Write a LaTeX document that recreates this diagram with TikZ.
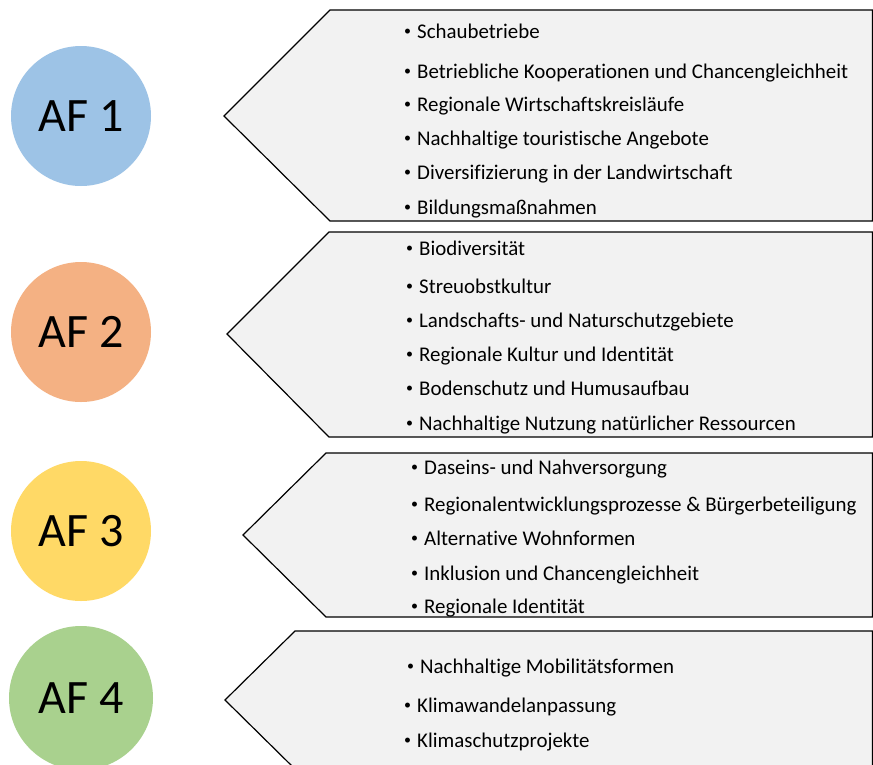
\documentclass[tikz,border=0pt]{standalone}
\usepackage{fontspec}
\setmainfont{Carlito}[Ligatures=NoCommon]
\definecolor{afblue}{HTML}{9DC3E6}
\definecolor{aforange}{HTML}{F4B183}
\definecolor{afyellow}{HTML}{FFD966}
\definecolor{afgreen}{HTML}{A9D18E}
\definecolor{boxgray}{HTML}{F2F2F2}
\tikzset{
  afcircle/.style={circle, inner sep=0pt, minimum size=140pt, font=\fontsize{48}{56}\selectfont},
  arrowbox/.style={draw=black, fill=boxgray, line width=1.2pt, line join=miter},
  item/.style={anchor=base west, inner sep=0pt, font=\fontsize{20.9}{25}\selectfont},
}
\newcommand{\bul}{\makebox[13pt][l]{\raisebox{2.6pt}{\fontsize{14}{14}\selectfont\textbullet}}}
\begin{document}
\begin{tikzpicture}[x=1pt,y=-1pt]
                \clip (0,0) rectangle (873,764);
                \fill[white] (0,0) rectangle (873,764);

                % Aktionsfelder
                \node[afcircle, fill=afblue] (af1) at (81,116) {AF 1};
                \node[afcircle, fill=aforange] (af2) at (81,332) {AF 2};
                \node[afcircle, fill=afyellow] (af3) at (81,531) {AF 3};
                \node[afcircle, fill=afgreen, minimum size=144pt] (af4) at (81,698) {AF 4};

                % Pfeilkästen
                \draw[arrowbox] (330,10) -- (872.5,10) -- (872.5,221) -- (330,221) -- (224,116) -- cycle;
                \draw[arrowbox] (329,232) -- (872.5,232) -- (872.5,437) -- (329,437) -- (227,334) -- cycle;
                \draw[arrowbox] (326,453) -- (872.5,453) -- (872.5,617) -- (326,617) -- (243,535) -- cycle;
                \draw[arrowbox] (295,631) -- (872.5,631) -- (872.5,769) -- (295,769) -- (225,700) -- cycle;

                % AF 1
                \node[item] (s1a) at (404,38) {\bul Schaubetriebe};
                \node[item] (s1b) at (404,78) {\bul Betriebliche Kooperationen und Chancengleichheit};
                \node[item] (s1c) at (404,111) {\bul Regionale Wirtschaftskreisläufe};
                \node[item] (s1d) at (404,145) {\bul Nachhaltige touristische Angebote};
                \node[item] (s1e) at (404,179) {\bul Diversifizierung in der Landwirtschaft};
                \node[item] (s1f) at (404,214) {\bul Bildungsmaßnahmen};

                % AF 2
                \node[item] (s2a) at (406,255) {\bul Biodiversität};
                \node[item] (s2b) at (406,293) {\bul Streuobstkultur};
                \node[item] (s2c) at (406,327) {\bul Landschafts- und Naturschutzgebiete};
                \node[item] (s2d) at (406,361) {\bul Regionale Kultur und Identität};
                \node[item] (s2e) at (406,395) {\bul Bodenschutz und Humusaufbau};
                \node[item] (s2f) at (406,430) {\bul Nachhaltige Nutzung natürlicher Ressourcen};

                % AF 3
                \node[item] (s3a) at (411,474) {\bul Daseins- und Nahversorgung};
                \node[item] (s3b) at (411,511) {\bul Regionalentwicklungsprozesse \& Bürgerbeteiligung};
                \node[item] (s3c) at (411,545) {\bul Alternative Wohnformen};
                \node[item] (s3d) at (411,580) {\bul Inklusion und Chancengleichheit};
                \node[item] (s3e) at (411,613) {\bul Regionale Identität};

                % AF 4
                \node[item] (s4a) at (407,673) {\bul Nachhaltige Mobilitätsformen};
                \node[item] (s4b) at (404,712) {\bul Klimawandelanpassung};
                \node[item] (s4c) at (404,747) {\bul Klimaschutzprojekte};
\end{tikzpicture}
\end{document}
